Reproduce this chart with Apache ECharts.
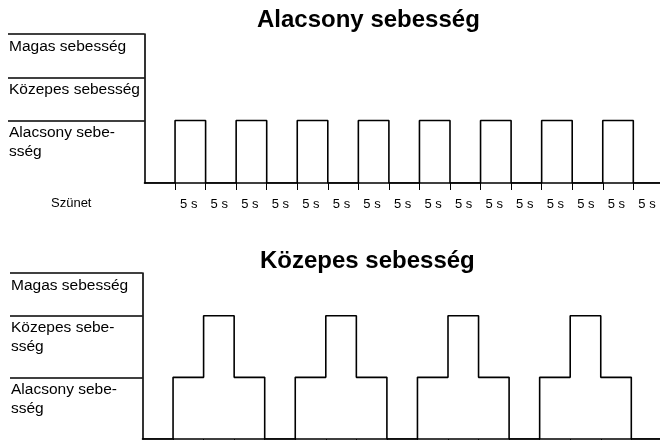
<!DOCTYPE html>
<html>
<head>
    <meta charset="utf-8">
    <title>Sebesség diagram</title>
    <script src="https://cdn.jsdelivr.net/npm/echarts@6/dist/echarts.min.js"></script>
    <style>
        body { margin: 0; background: #fff; }
        #chart { width: 660px; height: 440px; }
    </style>
</head>
<body>
    <div id="chart"></div>

    <script>
        // level names, bottom to top
        var levels = ['Szünet', 'Alacsony', 'Közepes', 'Magas'];
        var topLabels = ['Szünet', 'Alacsony sebe-\nsség', 'Közepes sebesség', 'Magas sebesség'];
        var bottomLabels = ['Szünet', 'Alacsony sebe-\nsség', 'Közepes sebe-\nsség', 'Magas sebesség'];
        var topTitle = 'Alacsony sebesség';
        var bottomTitle = 'Közepes sebesség';

        // 5 s slots, the first one starts one slot before the first tick
        var slotTicks = [0, 1, 2, 3, 4, 5, 6, 7, 8, 9, 10, 11, 12, 13, 14, 15];
        var slotLabels = ['5 s', '5 s', '5 s', '5 s', '5 s', '5 s', '5 s', '5 s',
                          '5 s', '5 s', '5 s', '5 s', '5 s', '5 s', '5 s', '5 s'];
        // level index in every slot (index into levels)
        var topPattern = [0, 1, 0, 1, 0, 1, 0, 1, 0, 1, 0, 1, 0, 1, 0, 1, 0];
        var bottomPattern = [0, 1, 2, 1, 0, 1, 2, 1, 0, 1, 2, 1, 0, 1, 2, 1, 0];

        var font = '"Liberation Sans", Arial, sans-serif';

        // band under each level is as tall as its label text
        function levelValues(labels) {
            var v = [0];
            for (var i = 1; i < labels.length; i++) {
                v.push(v[i - 1] + labels[i].split('\n').length + 1.25);
            }
            return v;
        }

        function stepData(pattern, vals) {
            var d = pattern.map(function (lv, i) { return [i - 1, vals[lv]]; });
            d.push([pattern.length - 1, vals[pattern[pattern.length - 1]]]);
            return d;
        }

        var topVals = levelValues(topLabels);
        var bottomVals = levelValues(bottomLabels);

        function makeYAxis(idx, labels, vals, labelMargin, tickLen) {
            return {
                type: 'value',
                gridIndex: idx,
                min: 0,
                max: vals[vals.length - 1],
                splitLine: { show: false },
                axisLine: { show: true, onZero: false, lineStyle: { color: '#000', width: 1.6 } },
                axisTick: {
                    show: true,
                    customValues: vals.slice(1),
                    length: tickLen,
                    lineStyle: { color: '#000', width: 1.6 }
                },
                axisLabel: {
                    customValues: vals,
                    margin: labelMargin,
                    align: 'left',
                    verticalAlign: 'top',
                    fontFamily: font,
                    fontSize: 15.5,
                    lineHeight: 19,
                    color: '#000',
                    padding: [3, 0, 0, 0],
                    formatter: function (value) {
                        var i = vals.indexOf(value);
                        if (i === 0) return '{sz|' + labels[0] + '}';
                        return i > 0 ? labels[i] : '';
                    },
                    rich: {
                        sz: { fontSize: 13, lineHeight: 13, fontFamily: font, color: '#000', padding: [22, 0, 0, 42] }
                    }
                }
            };
        }

        function makeXAxis(idx) {
            return {
                type: 'value',
                gridIndex: idx,
                min: -1,
                max: 16,
                interval: 1,
                splitLine: { show: false },
                axisLine: { show: true, onZero: false, lineStyle: { color: '#000', width: 1.6 } },
                axisTick: {
                    show: true,
                    customValues: slotTicks,
                    length: 7,
                    lineStyle: { color: '#000', width: 1 }
                },
                axisLabel: {
                    customValues: slotTicks,
                    align: 'left',
                    margin: 15,
                    padding: [0, 0, 0, 5],
                    fontFamily: font,
                    fontSize: 13,
                    color: '#000',
                    formatter: function (value) {
                        return slotLabels[slotTicks.indexOf(value)] || '';
                    }
                }
            };
        }

        var chart = echarts.init(document.getElementById('chart'));

        var option = {
            animation: false,
            backgroundColor: '#fff',
            title: [
                {
                    text: topTitle, left: 257, top: 8, padding: 0,
                    textStyle: { fontFamily: font, fontSize: 24, fontWeight: 'bold', color: '#000' }
                },
                {
                    text: bottomTitle, left: 260, top: 249, padding: 0,
                    textStyle: { fontFamily: font, fontSize: 24, fontWeight: 'bold', color: '#000' }
                }
            ],
            grid: [
                { left: 144.5, top: 34, width: 519.35, height: 149, outerBoundsMode: 'none', containLabel: false },
                { left: 142.5, top: 273, width: 519.35, height: 166, outerBoundsMode: 'none', containLabel: false }
            ],
            xAxis: [makeXAxis(0), makeXAxis(1)],
            yAxis: [
                makeYAxis(0, topLabels, topVals, 135.5, 136.5),
                makeYAxis(1, bottomLabels, bottomVals, 131.5, 132.5)
            ],
            series: [
                {
                    name: topTitle,
                    type: 'line',
                    xAxisIndex: 0,
                    yAxisIndex: 0,
                    step: 'end',
                    symbol: 'none',
                    lineStyle: { color: '#000', width: 1.6 },
                    data: stepData(topPattern, topVals)
                },
                {
                    name: bottomTitle,
                    type: 'line',
                    xAxisIndex: 1,
                    yAxisIndex: 1,
                    step: 'end',
                    symbol: 'none',
                    lineStyle: { color: '#000', width: 1.6 },
                    data: stepData(bottomPattern, bottomVals)
                }
            ]
        };

        chart.setOption(option);
    </script>
</body>
</html>
